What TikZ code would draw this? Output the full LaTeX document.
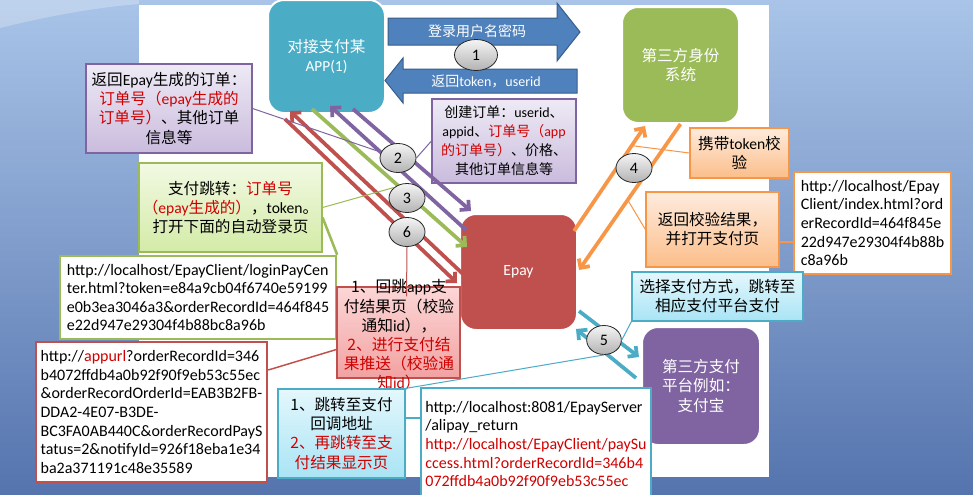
\documentclass[tikz,border=0pt]{standalone}
\usepackage{fontspec}
\setmainfont{Carlito}
\newfontfamily\cjk{Noto Sans CJK SC}
\newfontfamily\latf{Carlito}
\usetikzlibrary{arrows.meta,shapes.geometric}
\definecolor{appblue}{HTML}{4BACC6}
\definecolor{idgreen}{HTML}{9BBB59}
\definecolor{epayred}{HTML}{C0504D}
\definecolor{alipurple}{HTML}{8064A2}
\definecolor{bigblue}{HTML}{4F81BD}
\definecolor{bigblueb}{HTML}{385D8A}
\definecolor{orng}{HTML}{F79646}
\definecolor{txtred}{HTML}{D00000}
\definecolor{bgtop}{HTML}{A9C4E8}
\definecolor{bgbot}{HTML}{5574AE}
\definecolor{purpTop}{HTML}{EEEAF5}
\definecolor{purpBot}{HTML}{CABBDD}
\definecolor{grnTop}{HTML}{F2F9E3}
\definecolor{grnBot}{HTML}{D3EBA7}
\definecolor{pinkTop}{HTML}{FCD6D6}
\definecolor{pinkBot}{HTML}{F2A2A2}
\definecolor{cyTop}{HTML}{E4F7FC}
\definecolor{cyBot}{HTML}{A9E4F5}
\definecolor{orTop}{HTML}{FEEBDD}
\definecolor{orBot}{HTML}{FBBE8A}
\newcommand\lat[1]{{\latf #1}}
\newcommand\rd[1]{\textcolor{txtred}{#1}}
\begin{document}
\begin{tikzpicture}[x=0.75pt,y=-0.75pt,
  every node/.style={inner sep=2pt},
  cjkfont/.style={font=\cjk\fontsize{11.7}{14.3}\selectfont},
  bigbox/.style={rounded corners=12pt, draw=white, line width=1.5pt, text=white, cjkfont, align=center, inner sep=0pt},
  callout/.style={draw, line width=0.9pt, align=center, cjkfont, inner sep=1pt},
  urlbox/.style={draw, fill=white, line width=1.8pt, align=left, font=\latf\fontsize{12}{13.9}\selectfont, inner sep=0pt},
  badge/.style={ellipse, draw=black!85, line width=0.6pt, top color=white!96!black, bottom color=black!30, font=\latf\fontsize{12}{14}\selectfont, inner sep=0pt},
  arrowlbl/.style={text=white, font=\cjk\fontsize{10.5}{13}\selectfont, inner sep=0pt},
  flow/.style={line width=2.8pt, -{Straight Barb[length=5pt,width=10pt]}},
  lead/.style={line width=0.75pt},
  bigarrow/.style={fill=bigblue, draw=bigblueb, line width=0.75pt}]
\useasboundingbox (0,0) rectangle (973,494);
% background
\fill[top color=bgtop, bottom color=bgbot] (0,0) rectangle (973,494);
\fill[white, opacity=0.25] (0,0) -- (0,28) .. controls (40,18) and (90,8) .. (139,4) -- (139,0) -- cycle;
\fill[white] (139,5) rectangle (769,477);

% main boxes
\node[bigbox, fill=appblue, minimum width=87.75pt, minimum height=84.75pt] (app) at (326.5,56.5)
  {对接支付某\\{\latf\fontsize{11.5}{14}\selectfont APP(1)}};
\node[bigbox, fill=idgreen, minimum width=87.75pt, minimum height=87pt] (idsys) at (680.5,65) {第三方身份\\系统};
\node[bigbox, fill=epayred, minimum width=87.75pt, minimum height=87pt] (epay) at (518.5,272) {\lat{Epay}};
\node[bigbox, fill=alipurple, minimum width=88.5pt, minimum height=88.5pt] (alipay) at (701,386) {第三方支付\\平台例如：\\支付宝};

% big block arrows
\filldraw[bigarrow] (388,18) -- (557,18) -- (557,3) -- (580,32) -- (557,61) -- (557,45) -- (388,45) -- cycle;
\node[arrowlbl] (lbl1) at (477,31) {登录用户名密码};
\filldraw[bigarrow] (577,69) -- (403,69) -- (403,58) -- (385,80.5) -- (403,103) -- (403,93) -- (577,93) -- cycle;
\node[arrowlbl] (lbl2) at (486,81) {返回\lat{token}，\lat{userid}};

% callouts
\node[callout, draw=alipurple, top color=purpTop, bottom color=purpBot, minimum width=124.5pt, minimum height=66.75pt] (purpleL) at (169,108.5)
  {返回\lat{Epay}生成的订单：\\\rd{订单号（\lat{epay}生成的}\\\rd{订单号）}、其他订单\\信息等};
\node[callout, draw=alipurple, top color=purpTop, bottom color=purpBot, font=\cjk\fontsize{10.5}{14.2}\selectfont, minimum width=108pt, minimum height=63pt] (purpleR) at (504,141)
  {创建订单：\lat{userid}、\\\lat{appid}、\rd{订单号（\lat{app}}\\\rd{的订单号）}、价格、\\其他订单信息等};
\node[callout, draw=idgreen, top color=grnTop, bottom color=grnBot, minimum width=137.25pt, minimum height=66.75pt] (greenL) at (230.5,207.5)
  {支付跳转：\rd{订单号}\\\rd{（\lat{epay}生成的）}，\lat{token}。\\打开下面的自动登录页};
\node[urlbox, draw=idgreen, minimum width=207pt, minimum height=62.25pt] (urlG) at (198,297.5)
  {http://localhost/EpayClient/loginPayCen\\ter.html?token=e84a9cb04f6740e59199\\e0b3ea3046a3\&orderRecordId=464f845\\e22d947e29304f4b88bc8a96b};
\node[urlbox, draw=epayred, minimum width=173.25pt, minimum height=105pt] (urlR) at (151.5,412)
  {http://\rd{appurl}?orderRecordId=346\\b4072ffdb4a0b92f90f9eb53c55ec\\\&orderRecordOrderId=EAB3B2FB-\\DDA2-4E07-B3DE-\\BC3FA0AB440C\&orderRecordPayS\\tatus=2\&notifyId=926f18eba1e34\\ba2a371191c48e35589};
\node[callout, draw=epayred, top color=pinkTop, bottom color=pinkBot, minimum width=92.25pt, minimum height=68.25pt] (pink) at (398.5,332.5) {};
\node[cjkfont, font=\cjk\fontsize{11.8}{14.4}\selectfont, align=center, inner sep=0pt] (pinktxt) at (399,335)
  {1、回跳\lat{app}支\\付结果页（校验\\通知\lat{id}），\\\rd{2、进行支付结}\\\rd{果推送（校验通}\\\rd{知\lat{id}）}};
\node[callout, draw=appblue, top color=cyTop, bottom color=cyBot, minimum width=95.25pt, minimum height=66.75pt] (cyanL) at (341.5,433.5)
  {1、跳转至支付\\回调地址\\\rd{2、再跳转至支}\\\rd{付结果显示页}};
\node[urlbox, draw=appblue, line width=2.2pt, minimum width=172.5pt, minimum height=84pt] (urlC) at (536,444)
  {http://localhost:8081/EpayServer\\/alipay\_return\\\rd{http://localhost/EpayClient/paySu}\\\rd{ccess.html?orderRecordId=346b4}\\\rd{072ffdb4a0b92f90f9eb53c55ec}};
\node[callout, draw=orng, top color=orTop, bottom color=orBot, minimum width=74.25pt, minimum height=37.5pt] (orange1) at (739.5,153) {携带\lat{token}校\\验};
\node[callout, draw=orng, top color=orTop, bottom color=orBot, minimum width=99.75pt, minimum height=56.25pt] (orange2) at (712.5,229.5) {返回校验结果，\\并打开支付页};
\node[urlbox, draw=orng, line width=2.2pt, minimum width=117.75pt, minimum height=76.5pt] (urlO) at (872.5,223)
  {http://localhost/Epay\\Client/index.html?ord\\erRecordId=464f845e\\22d947e29304f4b88b\\c8a96b};
\node[callout, draw=appblue, top color=cyTop, bottom color=cyBot, minimum width=128.25pt, minimum height=36.75pt] (cyanR) at (717.5,296.5)
  {选择支付方式，跳转至\\相应支付平台支付};

% flow arrows
\draw[flow, alipurple] ([shift={(7,17)}]epay.north west) -- ([shift={(3.5,-8)}]app.south);
\draw[flow, alipurple] ([shift={(26.5,-5)}]app.south) -- ([shift={(12,-2)}]epay.north west);
\draw[flow, idgreen] ([shift={(-14.5,-5)}]app.south) -- ([shift={(8,34)}]epay.north west);
\draw[flow, epayred] ([shift={(5,3)}]epay.west) -- ([shift={(-36.5,-3)}]app.south);
\draw[flow, epayred] ([shift={(-41.5,5)}]app.south) -- ([shift={(-2,11)}]epay.west);
\draw[flow, orng] ([shift={(-4,18)}]epay.north east) -- coordinate[pos=0.813] (oUp) ([shift={(-35.5,2)}]idsys.south);
\draw[flow, orng] (idsys.south) -- coordinate[pos=0.52] (oDn) ([shift={(1,-2)}]epay.east);
\draw[flow, appblue] ([shift={(1,-20)}]epay.south east) -- ([shift={(-2,-29)}]alipay.west);
\draw[flow, appblue] ([shift={(-5,-8)}]alipay.west) -- ([shift={(-2,-2)}]epay.south east);

% step badges
\node[badge, minimum width=32.25pt, minimum height=23.25pt] (e1) at (476,55) {1};
\node[badge, minimum width=27pt, minimum height=21.75pt] (e2) at (398,158) {2};
\node[badge, minimum width=27pt, minimum height=21.75pt] (e3) at (407,198) {3};
\node[badge, minimum width=27pt, minimum height=21.75pt] (e6) at (407,232) {6};
\node[badge, minimum width=27pt, minimum height=21.75pt] (e4) at (634,168) {4};
\node[badge, minimum width=26pt, minimum height=21.75pt] (e5) at (604,340) {5};

% leaders
\draw[lead, alipurple] (purpleL.east) -- (e2);
\draw[lead, alipurple] (purpleR.west) -- (e2.east);
\draw[lead, idgreen] (greenL.east) -- (e3.north west);
\draw[idgreen, line width=1.9pt] ([shift={(0,10)}]greenL.east) -- (urlG.north east);
\draw[lead, epayred] (e6.south) -- ([shift={(8,10)}]pink.north);
\draw[epayred, line width=1.1pt] ([shift={(0,17)}]pink.west) -- ([shift={(0,-42)}]urlR.east);
\draw[lead, appblue] (cyanL.north east) -- (e5.south);
\draw[lead, appblue] (e5.east) -- (cyanR.south west);
\coordinate (cl) at ([shift={(0,-15.5)}]cyanL.east);
\draw[appblue, line width=2.2pt] (cl) -- (cl -| urlC.west);
\coordinate (ol) at ([shift={(0,12.5)}]orange2.east);
\draw[orng, line width=2.2pt] (ol) -- (ol -| urlO.west);
\draw[lead, orng] (orange1.west) -- (oUp);
\draw[lead, orng] (orange2.west) -- (oDn);
\end{tikzpicture}
\end{document}
